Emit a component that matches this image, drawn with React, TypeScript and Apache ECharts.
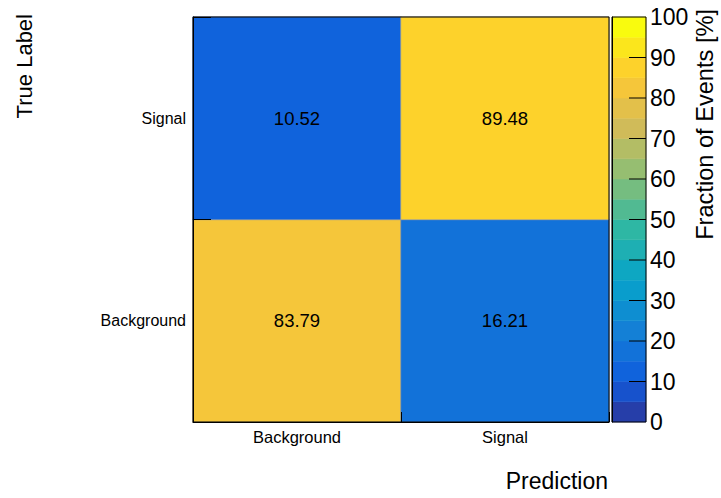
import React, { useEffect, useRef } from 'react';
import * as echarts from 'echarts';

// Confusion matrix: rows are the true class, columns the predicted class (in %)
const predictedLabels = ['Background', 'Signal'];
const trueLabels = ['Background', 'Signal'];
const trueBackgroundRow = [83.79, 16.21];
const trueSignalRow = [10.52, 89.48];

// Colour-bar contour levels (20 bands of 5 %) and labelled tick step
const contourLevels = [0, 5, 10, 15, 20, 25, 30, 35, 40, 45, 50, 55, 60, 65, 70, 75, 80, 85, 90, 95, 100];
const colorbarTickStep = 10;

// ROOT "kBird" palette anchor points
const birdStops = [0.0, 0.125, 0.25, 0.375, 0.5, 0.625, 0.75, 0.875, 1.0];
const birdRed = [0.2082, 0.0592, 0.078, 0.0232, 0.1802, 0.5301, 0.8186, 0.9956, 0.9764];
const birdGreen = [0.1664, 0.3599, 0.5041, 0.6419, 0.7178, 0.7492, 0.7328, 0.7862, 0.9832];
const birdBlue = [0.5293, 0.8684, 0.8385, 0.7914, 0.6425, 0.4662, 0.3499, 0.1968, 0.0539];

const FONT = '"Liberation Sans", Arial, Helvetica, sans-serif';

function birdColor(t: number): string {
  let k = 0;
  while (k < birdStops.length - 2 && t > birdStops[k + 1]) k++;
  const f = (t - birdStops[k]) / (birdStops[k + 1] - birdStops[k]);
  const mix = (a: number[]) => Math.round(255 * (a[k] + f * (a[k + 1] - a[k])));
  const hex = (v: number) => Math.max(0, Math.min(255, v)).toString(16).padStart(2, '0');
  return '#' + hex(mix(birdRed)) + hex(mix(birdGreen)) + hex(mix(birdBlue));
}

const nBands = contourLevels.length - 1;
const bandColors = contourLevels.slice(0, nBands).map((_, i) => birdColor(Math.min(1, (i + 0.99) / nBands)));

export default function App() {
  const ref = useRef<HTMLDivElement>(null);

  useEffect(() => {
    document.body.style.margin = '0';
    const chart = echarts.init(ref.current!, null, { renderer: 'svg' });

    const cells: [number, number, number][] = [];
    trueBackgroundRow.forEach((v, x) => cells.push([x, 0, v]));
    trueSignalRow.forEach((v, x) => cells.push([x, 1, v]));

    const bands = bandColors.map((_, i) => [contourLevels[i], contourLevels[i + 1], i]);

    const pieces = bandColors.map((color, i) =>
      i === nBands - 1
        ? { gte: contourLevels[i], lte: contourLevels[i + 1], color }
        : { gte: contourLevels[i], lt: contourLevels[i + 1], color }
    );

    chart.setOption({
      animation: false,
      backgroundColor: '#ffffff',
      textStyle: { fontFamily: FONT, color: '#000' },
      grid: [
        { left: 193, top: 17, width: 416, height: 405, containLabel: false },
        { left: 612, top: 17, width: 34, height: 405, containLabel: false },
      ],
      xAxis: [
        {
          type: 'category',
          gridIndex: 0,
          data: predictedLabels,
          position: 'bottom',
          z: 10,
          axisLine: { show: true, lineStyle: { color: '#000', width: 1 } },
          axisTick: { show: true, inside: true, length: 10, lineStyle: { color: '#000' } },
          axisLabel: { fontSize: 16.5, color: '#000', margin: 6, fontFamily: FONT },
          splitLine: { show: false },
        },
        { type: 'value', gridIndex: 1, min: 0, max: 1, show: false },
      ],
      yAxis: [
        {
          type: 'category',
          gridIndex: 0,
          data: trueLabels,
          z: 10,
          axisLine: { show: true, lineStyle: { color: '#000', width: 1 } },
          axisTick: { show: true, inside: true, length: 18, lineStyle: { color: '#000' } },
          axisLabel: { fontSize: 16, color: '#000', margin: 7, fontFamily: FONT },
          splitLine: { show: false },
        },
        {
          type: 'value',
          gridIndex: 1,
          min: 0,
          max: 100,
          interval: colorbarTickStep,
          position: 'right',
          z: 10,
          axisLine: { show: true, lineStyle: { color: '#000', width: 1 } },
          axisTick: { show: false },
          axisLabel: { fontSize: 23, color: '#000', margin: 4, fontFamily: FONT },
          splitLine: { show: false },
        },
      ],
      visualMap: {
        type: 'piecewise',
        show: false,
        seriesIndex: 0,
        dimension: 2,
        pieces,
      },
      series: [
        {
          type: 'heatmap',
          xAxisIndex: 0,
          yAxisIndex: 0,
          data: cells,
          itemStyle: { borderColor: 'rgba(150,155,165,0.8)', borderWidth: 0.8 },
          label: {
            show: true,
            color: '#000',
            fontSize: 18.5,
            fontFamily: FONT,
            formatter: (p: any) => p.value[2].toFixed(2),
          },
          emphasis: { disabled: true },
        },
        {
          // colour bar: one filled band per contour, with inward ticks at labelled levels
          type: 'custom',
          xAxisIndex: 1,
          yAxisIndex: 1,
          data: bands,
          encode: { y: [0, 1] },
          clip: false,
          renderItem: (_params: any, api: any) => {
            const lo = api.value(0);
            const hi = api.value(1);
            const idx = api.value(2);
            const p0 = api.coord([0, lo]);
            const p1 = api.coord([1, hi]);
            const children: any[] = [
              {
                type: 'rect',
                shape: { x: p0[0], y: p1[1], width: p1[0] - p0[0], height: p0[1] - p1[1] },
                style: { fill: bandColors[idx], stroke: bandColors[idx], lineWidth: 0.5 },
              },
            ];
            if (lo > 0 && lo % colorbarTickStep === 0) {
              children.push({
                type: 'line',
                z2: 5,
                shape: { x1: p1[0] - 17, y1: p0[1], x2: p1[0], y2: p0[1] },
                style: { stroke: '#000', lineWidth: 1 },
              });
            }
            return { type: 'group', children };
          },
        },
      ],
      graphic: [
        {
          type: 'rect',
          z: 100,
          shape: { x: 193, y: 17, width: 416, height: 405 },
          style: { fill: 'none', stroke: '#000', lineWidth: 1 },
        },
        {
          type: 'rect',
          z: 100,
          shape: { x: 612, y: 17, width: 34, height: 405 },
          style: { fill: 'none', stroke: '#000', lineWidth: 1 },
        },
        {
          type: 'text',
          x: 24,
          y: 14,
          rotation: Math.PI / 2,
          style: {
            text: 'True Label',
            fontSize: 22,
            fontFamily: FONT,
            fill: '#000',
            textAlign: 'right',
            textVerticalAlign: 'middle',
          },
        },
        {
          type: 'text',
          x: 705,
          y: 9,
          rotation: Math.PI / 2,
          style: {
            text: 'Fraction of Events [%]',
            fontSize: 23.6,
            fontFamily: FONT,
            fill: '#000',
            textAlign: 'right',
            textVerticalAlign: 'middle',
          },
        },
        {
          type: 'text',
          x: 608,
          y: 481,
          style: {
            text: 'Prediction',
            fontSize: 23,
            fontFamily: FONT,
            fill: '#000',
            textAlign: 'right',
            textVerticalAlign: 'middle',
          },
        },
      ],
    });

    return () => chart.dispose();
  }, []);

  return <div ref={ref} style={{ width: 721, height: 498 }} />;
}
